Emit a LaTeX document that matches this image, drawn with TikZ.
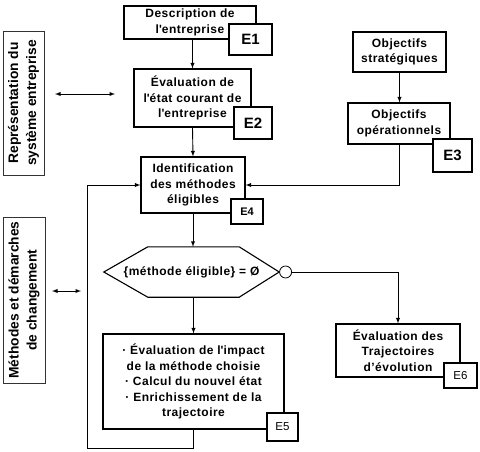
\documentclass[tikz,border=0pt]{standalone}
\usepackage{fontspec}
\setmainfont{Liberation Sans}
\usetikzlibrary{calc, positioning}

\begin{document}
\begin{tikzpicture}[>=latex, x=1pt, y=-1pt,
    boite/.style={draw, line width=1.1pt, fill=white, inner sep=0pt, align=center,
        font=\bfseries\fontsize{12}{15.5}\selectfont\addfontfeatures{LetterSpace=4}},
    etiq/.style={draw, line width=1.1pt, fill=white, inner sep=0pt,
        font=\bfseries\fontsize{15}{15}\selectfont},
    petite/.style={draw, line width=1.1pt, fill=white, inner sep=0pt,
        font=\fontsize{11.5}{12}\selectfont},
    cote/.style={draw=black!80, line width=0.8pt, rotate=90, inner sep=0pt, align=center,
        font=\bfseries\fontsize{13.8}{18}\selectfont},
    lien/.style={line width=0.9pt}]
    \useasboundingbox (0,0) rectangle (480,451);

    % Blocs de gauche
    \node[cote, minimum width=144pt, minimum height=41pt] (repr) at (23.5,103) {Représentation du\\système entreprise};
    \node[cote, minimum width=166pt, minimum height=42pt] (meth) at (24,300) {Méthodes et démarches\\de changement};
    \coordinate (g1) at (55,94);
    \coordinate (d1) at (115,94);
    \coordinate (g2) at (52,291);
    \coordinate (d2) at (81,291);
    \draw[lien, <->] (g1) -- (d1);
    \draw[lien, <->] (g2) -- (d2);

    % Etapes
    \node[boite, minimum width=132pt, minimum height=33pt] (desc) at (190,22.5) {Description de\\l\textquotesingle entreprise};
    \node[boite, minimum width=117pt, minimum height=58pt] (eval) at (192.5,98) {Évaluation de\\l\textquotesingle état courant de\\l\textquotesingle entreprise};
    \node[boite, minimum width=104pt, minimum height=56pt] (ident) at (193,185) {Identification\\des méthodes\\éligibles};
    \node[boite, minimum width=93pt, minimum height=40pt] (objs) at (399.5,52) {Objectifs\\stratégiques};
    \node[boite, minimum width=102pt, minimum height=41pt] (objo) at (399,123.5) {Objectifs\\opérationnels};
    \node[boite, minimum width=181pt, minimum height=95pt] (calc) at (193.5,381.5) {· Évaluation de l\textquotesingle impact\\de la méthode choisie\\· Calcul du nouvel état\\· Enrichissement de la\\trajectoire};
    \node[boite, minimum width=124pt, minimum height=53pt] (traj) at (398,350.5) {Évaluation des\\Trajectoires\\d’évolution};

    % Test
    \node[inner sep=0pt, minimum width=175pt, minimum height=50pt,
        font=\bfseries\fontsize{12}{13}\selectfont\addfontfeatures{LetterSpace=4}] (test) at (191.5,272) {\{méthode éligible\} = Ø};
    \draw[line width=1.1pt] (test.west) -- ($(test.north west)+(44,0)$) -- ($(test.north east)+(-40,0)$)
        -- (test.east) -- ($(test.south east)+(-40,0)$) -- ($(test.south west)+(44,0)$) -- cycle;
    \node[draw, circle, fill=white, line width=0.8pt, minimum size=12pt, inner sep=0pt, anchor=west] (vide) at (test.east) {};

    % Etiquettes
    \node[etiq, minimum width=43pt, minimum height=31pt] (e1) at (250.5,39.5) {E1};
    \node[etiq, minimum width=38pt, minimum height=32pt] (e2) at (253,123) {E2};
    \node[etiq, minimum width=39pt, minimum height=33pt] (e3) at (452.5,155.5) {E3};
    \node[petite, font=\bfseries\fontsize{11}{12}\selectfont, minimum width=32pt, minimum height=25pt] (e4) at (247,211.5) {E4};
    \node[petite, minimum width=31pt, minimum height=28pt] (e5) at (282.5,427) {E5};
    \node[petite, minimum width=33pt, minimum height=25pt] (e6) at (460.5,375.5) {E6};

    % Liaisons
    \draw[lien, ->] (eval.north |- desc.south) -- (eval.north);
    \draw[lien, ->] (eval.south) -- (ident.north);
    \draw[lien, ->] (objs.south) -- (objs.south |- objo.north);
    \draw[lien, ->] (objo.south) |- (ident.east);
    \draw[lien, ->] (ident.south) -- (ident.south |- test.north);
    \draw[lien, ->] (calc.north |- test.south) -- (calc.north);
    \draw[lien, ->] (vide.east) -| (traj.north);
    \coordinate (coin) at (87,448);
    \draw[lien, ->] (calc.south) |- (coin) |- (ident.west);
\end{tikzpicture}
\end{document}
